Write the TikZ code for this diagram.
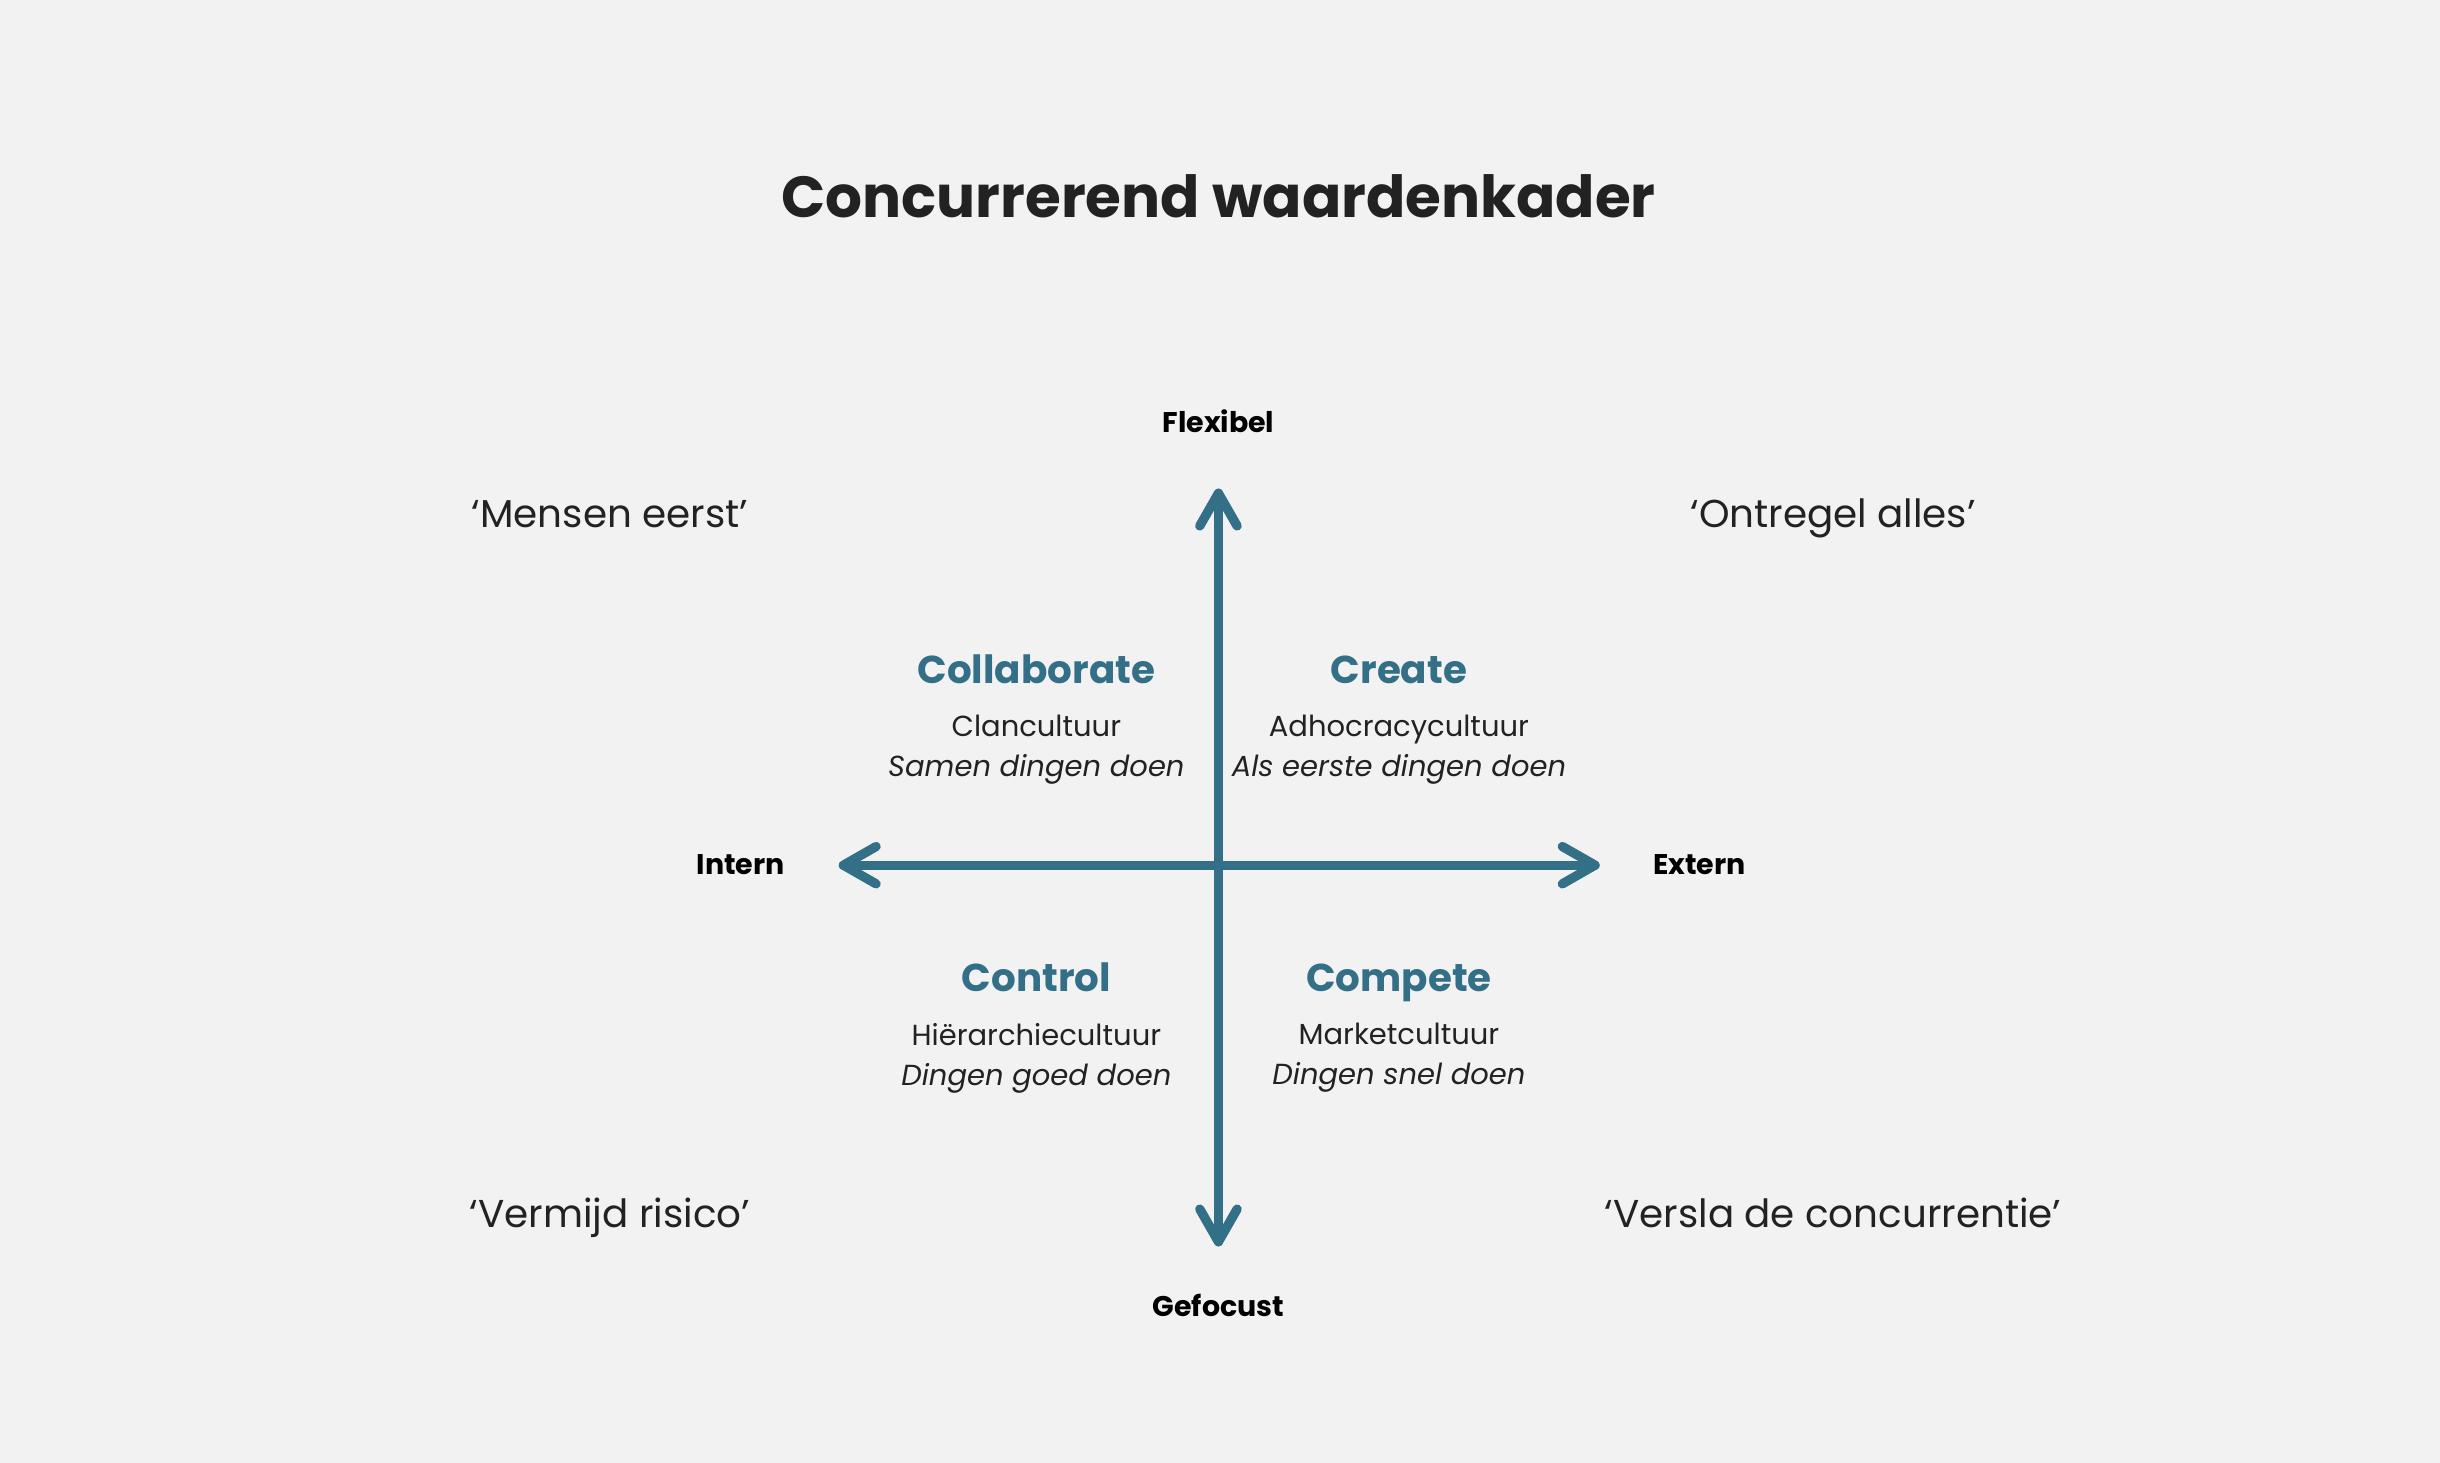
\documentclass[tikz,border=0pt]{standalone}
\usepackage{fontspec}
\setmainfont{Poppins}
\usetikzlibrary{positioning}
\definecolor{axisblue}{HTML}{336F87}
\definecolor{bgrey}{HTML}{F2F2F2}
\definecolor{inkdark}{HTML}{222222}
\tikzset{
  axis/.style={draw=axisblue, line width=1.7pt, line cap=round},
  tip/.style={draw=axisblue, line width=1.7pt, line cap=round, line join=round},
  axislabel/.style={font=\fontsize{5.2}{7}\selectfont\bfseries, text=black, anchor=base},
  heading/.style={font=\fontsize{7.1}{9}\selectfont\bfseries, text=axisblue, anchor=base},
  sub/.style={font=\fontsize{5.3}{7.3}\selectfont, text=inkdark, align=center, anchor=north},
  motto/.style={font=\fontsize{7.1}{9}\selectfont, text=inkdark, anchor=base}
}
\begin{document}
\begin{tikzpicture}[x=0.01cm, y=-0.01cm]
  \fill[bgrey] (0,0) rectangle (1568,940);
  \useasboundingbox (0,0) rectangle (1568,940);
  \node[font=\fontsize{10.6}{14}\selectfont\bfseries, text=inkdark, anchor=base] (title) at (783,140) {Concurrerend waardenkader};
  % axes
  \coordinate (top) at (783,317);
  \coordinate (bottom) at (783,798);
  \coordinate (left) at (542,556);
  \coordinate (right) at (1025,556);
  \draw[axis] (top) -- (bottom);
  \draw[axis] (left) -- (right);
  \draw[tip] ([shift={(-12,21)}]top) -- (top) -- ([shift={(12,21)}]top);
  \draw[tip] ([shift={(-12,-21)}]bottom) -- (bottom) -- ([shift={(12,-21)}]bottom);
  \draw[tip] ([shift={(21,-12)}]left) -- (left) -- ([shift={(21,12)}]left);
  \draw[tip] ([shift={(-21,-12)}]right) -- (right) -- ([shift={(-21,12)}]right);
  \node[axislabel] (flex) at (783,278) {Flexibel};
  \node[axislabel] (focus) at (783,846) {Gefocust};
  \node[axislabel] (intern) at (476,562) {Intern};
  \node[axislabel] (extern) at (1092,562) {Extern};
  % quadrants
  \node[heading] (collab) at (666,439) {Collaborate};
  \node[sub] (clan) at (666,447) {Clancultuur\\\itshape Samen dingen doen};
  \node[heading] (create) at (899,439) {Create};
  \node[sub] (adho) at (899,447) {Adhocracycultuur\\\itshape Als eerste dingen doen};
  \node[heading] (control) at (666,637) {Control};
  \node[sub] (hier) at (666,645) {Hiërarchiecultuur\\\itshape Dingen goed doen};
  \node[heading] (compete) at (899,637) {Compete};
  \node[sub] (market) at (899,645) {Marketcultuur\\\itshape Dingen snel doen};
  % mottos
  \node[motto] (people) at (392,339) {‘Mensen eerst’};
  \node[motto] (dereg) at (1178,339) {‘Ontregel alles’};
  \node[motto] (risk) at (392,789) {‘Vermijd risico’};
  \node[motto] (beat) at (1178,789) {‘Versla de concurrentie’};
\end{tikzpicture}
\end{document}
